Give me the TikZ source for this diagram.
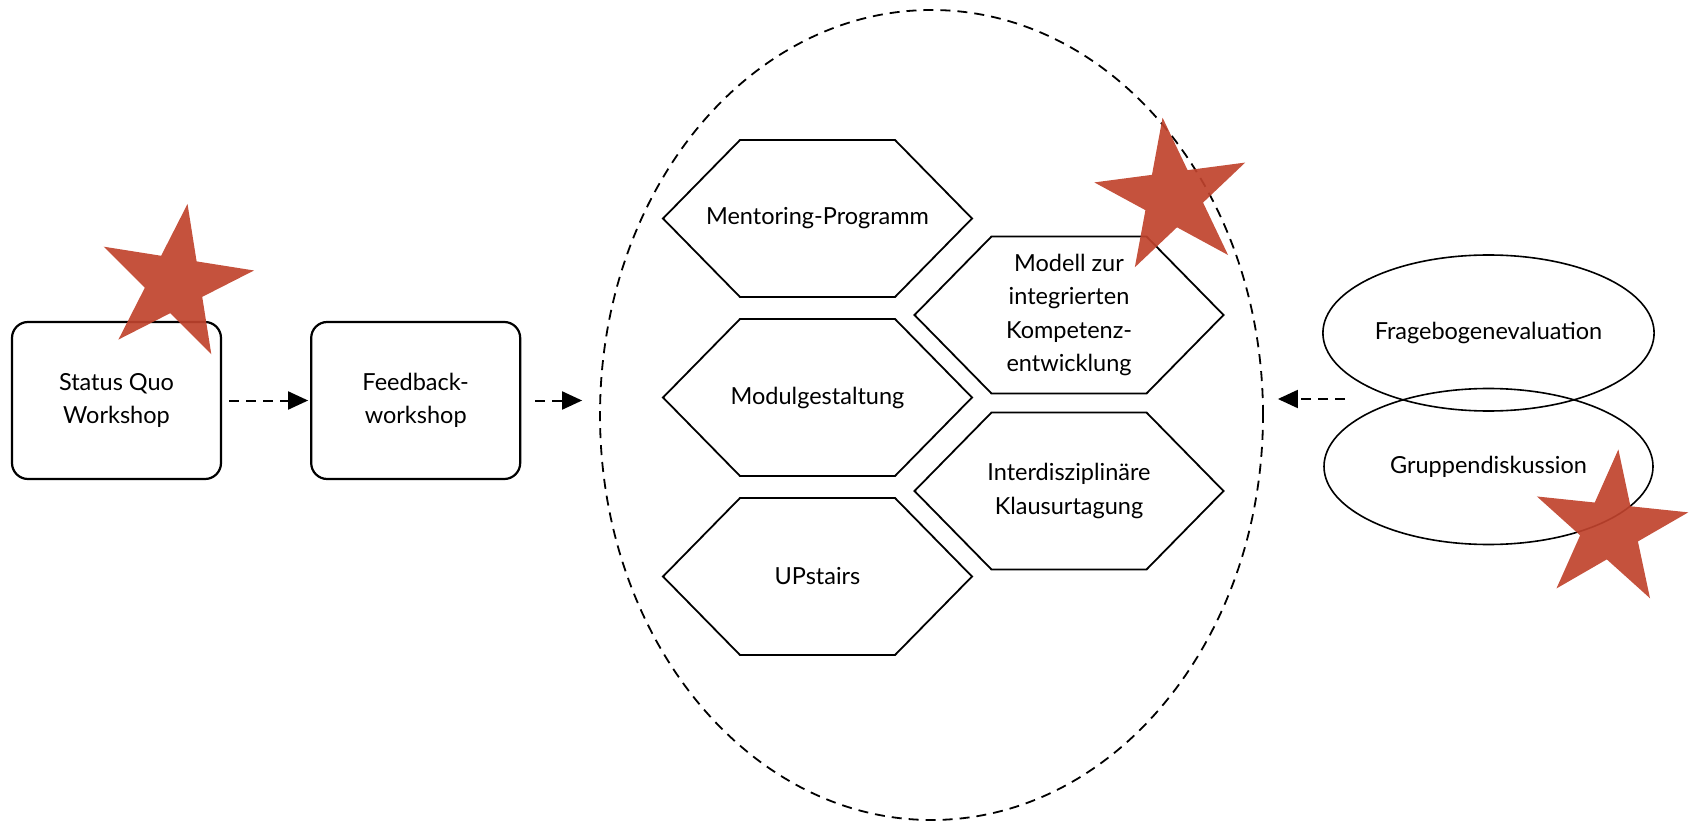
\documentclass[tikz,border=0pt]{standalone}
\usepackage{fontspec}
\setmainfont{Lato}
\usetikzlibrary{arrows.meta,positioning,calc}
\usetikzlibrary{shapes.symbols,shapes.geometric}

\begin{document}
\begin{tikzpicture}[x=1pt,y=-1pt]
\definecolor{starred}{RGB}{192,67,45}
\tikzset{
     label font/.style={font=\fontsize{23.5}{33.5}\selectfont, align=center},
     box/.style={draw, line width=2.2pt, rounded corners=16pt, minimum width=209pt, minimum height=157pt, label font},
     hexa/.style={minimum width=309pt, minimum height=157pt, inner sep=0pt, outer sep=0pt, label font},
     hexline/.style={draw, line width=1.8pt, line join=miter},
     bubble/.style={ellipse, draw, line width=1.6pt, minimum width=329pt, minimum height=156pt, label font},
     flow/.style={line width=2pt, dash pattern=on 10pt off 7pt, -{Triangle[length=20pt,width=18pt]}},
     redstar/.style={star, star points=5, star point ratio=2.618, fill=starred, opacity=0.92, minimum size=160pt, inner sep=0pt}}

\useasboundingbox (0,0) rectangle (1698,826);

% The workshops
\node (statusquo) [box] at (116.5,400.5) {Status Quo\\Workshop};
\node (feedback) [box, right=88pt of statusquo] {Feedback-\\workshop};

% The measures
\node (cluster) [draw, ellipse, line width=1.8pt, dash pattern=on 10pt off 7pt, minimum width=663pt, minimum height=810pt] at (931.5,415) {};

\node (mentoring) [hexa] at (817.5,218.5) {Mentoring-Programm};
\node (modul) [hexa, below=22pt of mentoring] {Modulgestaltung};
\node (upstairs) [hexa, below=22pt of modul] {UPstairs};
\node (modell) [hexa] at (1069,315) {Modell zur\\integrierten\\Kompetenz-\\entwicklung};
\node (klausur) [hexa, below=19pt of modell] {Interdisziplinäre\\Klausurtagung};

\foreach \h in {mentoring,modul,upstairs,modell,klausur}
  \draw [hexline] (\h.west) -- ([xshift=77pt]\h.north west) -- ([xshift=-77pt]\h.north east)
     -- (\h.east) -- ([xshift=-77pt]\h.south east) -- ([xshift=77pt]\h.south west) -- cycle;

% The evaluation
\node (fragebogen) [bubble] at (1488.5,333) {Fragebogenevaluation};
\node (gruppen) [bubble] at (1488.5,466.5) {Gruppendiskussion};
\coordinate (evalfeed) at (1345,399);

% The arrows
\draw [flow, shorten <=7pt, shorten >=2pt] (statusquo) -- (feedback);
\draw [flow, shorten <=14pt, shorten >=17pt] (feedback) -- (feedback -| cluster.west);
\draw [flow, shorten >=14pt] (evalfeed) -- (evalfeed -| cluster.east);

% The stars
\node (star1) [redstar, rotate=-9] at (175,283) {};
\node (star2) [redstar, rotate=7.5] at (1173,197) {};
\node (star3) [redstar, rotate=-6] at (1610,529) {};
\end{tikzpicture}
\end{document}
